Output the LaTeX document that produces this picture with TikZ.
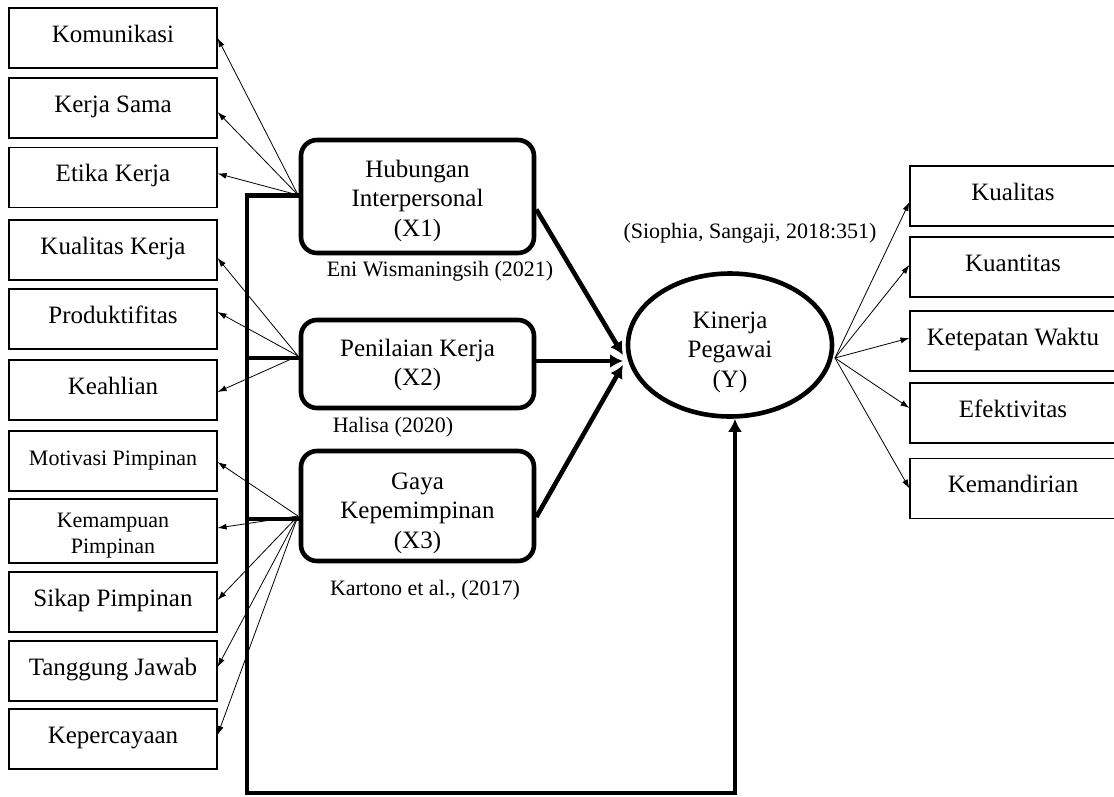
\documentclass[tikz,border=0pt]{standalone}
\usepackage{fontspec}
\setmainfont{Liberation Serif}
\usetikzlibrary{arrows.meta,shapes.geometric,calc}
\begin{document}
\begin{tikzpicture}[x=1pt,y=-1pt,
  basebox/.style={draw,line width=1.1pt,minimum width=208pt,minimum height=60pt,inner sep=0pt,align=center,font=\fontsize{25}{29}\selectfont},
  indbox/.style={basebox,text height=20pt,text depth=12pt},
  rindbox/.style={indbox,minimum width=206pt},
  varbox/.style={draw,line width=4.6pt,rounded corners=16pt,minimum width=233pt,inner sep=0pt},
  yell/.style={draw,ellipse,line width=4.6pt,minimum width=204pt,minimum height=143pt,inner sep=0pt},
  vtext/.style={align=center,inner sep=0pt,font=\fontsize{25}{29.5}\selectfont},
  stext/.style={align=center,inner sep=0pt,font=\fontsize{22}{26}\selectfont},
  citetext/.style={font=\fontsize{22}{26}\selectfont,inner sep=0pt},
  indarrow/.style={line width=0.8pt,-{Latex[length=9pt,width=6pt]}},
  thk/.style={line width=4.6pt},
  thkarrow/.style={line width=4.6pt,-{Latex[length=13pt,width=14pt]}}
]
\useasboundingbox (0,0) rectangle (1114,796);
\fill[white] (0,0) rectangle (1114,796);

% left indicator boxes
\node[indbox] (kom) at (113,38) {Komunikasi};
\node[indbox] (ks) at (113,108) {Kerja Sama};
\node[indbox] (ek) at (113,177.5) {Etika Kerja};
\node[indbox] (kk) at (113,250) {Kualitas Kerja};
\node[indbox] (pr) at (113,319) {Produktifitas};
\node[indbox] (ke) at (113,390) {Keahlian};
\node[indbox,font=\fontsize{22}{26}\selectfont] (mp) at (113,461) {Motivasi Pimpinan};
\node[basebox,minimum height=64pt,label={[stext,yshift=-5pt]center:{Kemampuan\\Pimpinan}}] (kp) at (113,531) {};
\node[indbox] (sp) at (113,602) {Sikap Pimpinan};
\node[indbox] (tj) at (113,671) {Tanggung Jawab};
\node[indbox] (kc) at (113,739) {Kepercayaan};

% variable boxes
\node[varbox,minimum height=113pt,label={[vtext,yshift=-4pt]center:{Hubungan\\Interpersonal\\(X1)}}] (x1) at (417.5,196.5) {};
\node[varbox,minimum height=88pt,label={[vtext,yshift=-1pt]center:{Penilaian Kerja\\(X2)}}] (x2) at (417.5,364) {};
\node[varbox,minimum height=110pt,label={[vtext,yshift=-7pt]center:{Gaya\\Kepemimpinan\\(X3)}}] (x3) at (417.5,506) {};

\node[citetext] (c1) at (440,271) {Eni Wismaningsih (2021)};
\node[citetext] (c2) at (393,427) {Halisa (2020)};
\node[citetext] (c3) at (425,590) {Kartono et al., (2017)};
\node[citetext] (c4) at (750,233) {(Siophia, Sangaji, 2018:351)};

% dependent variable
\node[yell,label={[vtext,yshift=-7pt]center:{Kinerja\\Pegawai\\(Y)}}] (Y) at (730,345) {};

% right indicator boxes
\node[rindbox] (kual) at (1013,196) {Kualitas};
\node[rindbox] (kuan) at (1013,267) {Kuantitas};
\node[rindbox] (ket) at (1013,341) {Ketepatan Waktu};
\node[rindbox] (ef) at (1013,413) {Efektivitas};
\node[rindbox] (kem) at (1013,488.5) {Kemandirian};

% fan points
\coordinate (f1) at (298,195);
\coordinate (f2) at (298,356);
\coordinate (f3) at (298,516);
\coordinate (fy) at (835,358);
\coordinate (jn) at (623,358);
\coordinate (b2) at (247,358);
\coordinate (b3) at (247,519);

% X1 indicators
\draw[indarrow] (f1) -- (kom.east);
\draw[indarrow] (f1) -- ($(ks.east)+(0,4)$);
\draw[indarrow] (f1) -- ($(ek.east)+(0,-4)$);
% X2 indicators
\draw[indarrow] (f2) -- ($(kk.east)+(0,8)$);
\draw[indarrow] (f2) -- ($(pr.east)+(0,-7)$);
\draw[indarrow] (f2) -- ($(ke.east)+(0,2)$);
% X3 indicators
\draw[indarrow] (f3) -- ($(mp.east)+(0,1)$);
\draw[indarrow] (f3) -- ($(kp.east)+(0,-3)$);
\draw[indarrow] (f3) -- ($(sp.east)+(0,-2)$);
\draw[indarrow] (f3) -- ($(tj.east)+(0,-4)$);
\draw[indarrow] (f3) -- ($(kc.east)+(0,-4)$);
% Y indicators
\draw[indarrow] (fy) -- ($(kual.west)+(0,6)$);
\draw[indarrow] (fy) -- ($(kuan.west)+(0,-2)$);
\draw[indarrow] (fy) -- ($(ket.west)+(0,-3)$);
\draw[indarrow] (fy) -- ($(ef.west)+(0,-5)$);
\draw[indarrow] (fy) -- (kem.west);

% thick paths
\draw[thkarrow] ($(x1.east)+(0,13)$) -- ($(jn)+(0,-3)$);
\draw[thkarrow] ($(x2.east)+(0,-3)$) -- ($(jn)+(0,3)$);
\draw[thkarrow] ($(x3.east)+(0,11)$) -- ($(jn)+(0,7)$);

\draw[thkarrow] ($(x1.west)+(0,-1)$) -- (247,195.5) -- (247,793) -- (735,793) -- ([xshift=5pt]Y.south);
\draw[thk] (b2) -- ($(x2.west)+(0,-6)$);
\draw[thk] (b3) -- ($(x3.west)+(0,13)$);
\end{tikzpicture}
\end{document}
